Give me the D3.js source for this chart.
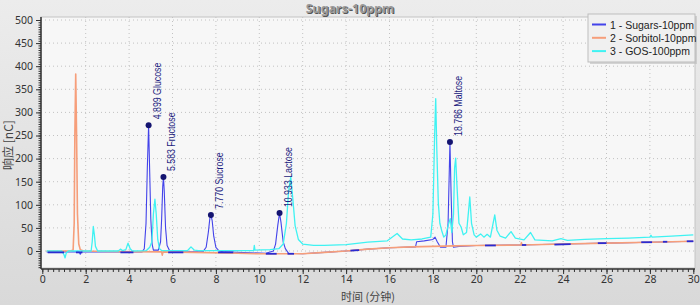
<!DOCTYPE html>
<html>
<head>
<meta charset="utf-8">
<script src="https://cdn.jsdelivr.net/npm/d3@7"></script>
<style>
  body { margin: 0; background: #e4e4e4; }
  svg { display: block; }
</style>
</head>
<body>
<div id="vis"></div>
<script>
// series names
let seriesNames = ["1 - Sugars-10ppm", "2 - Sorbitol-10ppm", "3 - GOS-100ppm"];
let seriesColors = ["#4343ea", "#f69e7a", "#3ff2f2"];

// [time (min), response (nC)]
let sugars = [[0.2,-2],[1.0,-2],[1.7,-2],[1.75,-7],[1.8,-2],[3.9,-2],[4.6,-2],[4.7,5],[4.78,60],[4.84,180],
  [4.899,272],[4.95,170],[5.0,70],[5.06,15],[5.12,2],[5.35,2],[5.45,20],[5.5,70],[5.55,140],[5.583,160],
  [5.62,130],[5.68,50],[5.75,12],[5.85,2],[6.0,-2],[7.4,-2],[7.55,8],[7.65,40],[7.72,70],[7.77,78],
  [7.83,65],[7.9,32],[8.0,8],[8.15,0],[8.4,-2],[10.3,-5],[10.65,0],[10.75,15],[10.85,55],[10.933,82],
  [11.0,62],[11.1,20],[11.2,5],[11.35,-5],[12,-6],[13,-3],[14,0],[15,4],[16,7],[17.2,9],[17.25,20],
  [17.6,22],[18.0,25],[18.1,30],[18.2,20],[18.35,8],[18.6,8],[18.7,60],[18.786,236],[18.84,120],
  [18.9,20],[18.95,8],[19.2,10],[20,12],[22,13],[24,15],[26,17],[28,19],[30,21]];

let sorbitol = [[0.2,0],[1.3,0],[1.42,2],[1.47,60],[1.5,250],[1.54,383],[1.58,250],[1.62,80],[1.68,15],
  [1.75,3],[1.9,0],[3,-1],[5.5,-2],[5.53,-9],[5.56,-2],[7,-3],[9,-5],[10,-6],[12,-6],[13,-3],[14,0],
  [15,4],[16,7],[17,9],[18,10],[19,11],[20,12],[22.05,13],[22.08,18],[22.11,13],[24,15],[26,17],
  [28,19],[30,21]];

let gos = [[0.2,0],[0.9,0],[1.0,-8],[1.05,-15],[1.1,-5],[1.2,0],[2.25,0],[2.3,20],[2.35,53],[2.4,35],
  [2.45,10],[2.55,0],[3.5,0],[3.6,4],[3.7,1],[3.85,3],[3.95,17],[4.05,5],[4.15,0],[4.8,1],[4.95,8],
  [5.05,20],[5.12,80],[5.19,112],[5.25,80],[5.32,25],[5.4,5],[5.5,1],[6.7,1],[6.85,9],[7.0,2],[7.2,1],
  [9.74,1],[9.77,12],[9.8,2],[10.5,3],[10.9,5],[11.1,15],[11.25,60],[11.35,130],[11.45,160],[11.55,110],
  [11.65,55],[11.8,25],[12.0,15],[12.5,12],[13,12],[14,14],[15,19],[15.9,22],[16.35,38],[16.6,26],
  [17,24],[17.5,26],[17.9,30],[18.0,80],[18.08,250],[18.13,330],[18.18,220],[18.25,104],[18.32,60],
  [18.4,45],[18.5,30],[18.6,35],[18.7,55],[18.8,70],[18.87,40],[18.95,80],[19.0,180],[19.05,201],
  [19.1,150],[19.2,60],[19.3,52],[19.4,35],[19.55,40],[19.65,90],[19.7,117],[19.78,60],[19.9,35],
  [20.0,30],[20.2,37],[20.35,30],[20.5,36],[20.65,30],[20.85,78],[20.95,45],[21.1,32],[21.35,28],
  [21.6,42],[21.8,28],[22.2,24],[22.5,40],[22.7,24],[23.5,22],[23.9,27],[24.2,23],[25,25],[26,27],
  [27,28],[28,30],[28.05,34],[28.1,30],[29,32],[30,35]];

// integration baselines drawn on trace 1: [t1, v1, t2, v2]
let baselines = [[0.25,-3,1.0,-3],[1.55,-3,1.85,-3],[3.6,-3,4.2,-3],[5.8,-3,6.5,-3],[8.1,-3,8.8,-3],
  [10.3,-6,10.8,-6],[11.3,-6,11.6,-6],[14.2,1,14.6,2],[20.4,12,20.9,12],[22.1,13,22.3,13],
  [23.6,14,24.35,15],[25.6,17,26.0,17],[27.6,19,28.1,19],[28.6,20,28.8,20],[29.7,21,30,21]];

// labelled peaks of trace 1
let peakTimes = [4.899, 5.583, 7.770, 10.933, 18.786];
let peakHeights = [272, 160, 78, 82, 236];
let peakNames = ["Glucose", "Fructose", "Sucrose", "Lactose", "Maltose"];

let xTicks = d3.range(0, 31, 2);
let yTicks = d3.range(0, 501, 50);

let width = 700, height = 305;
let margin = {top: 17, right: 5, bottom: 37, left: 41};

let svg = d3.select("#vis").append("svg")
  .attr("width", width).attr("height", height);

let defs = svg.append("defs");
let bg = defs.append("linearGradient").attr("id", "bg")
  .attr("x1", 0).attr("y1", 0).attr("x2", 0).attr("y2", 1);
bg.append("stop").attr("offset", "0%").attr("stop-color", "#ececec");
bg.append("stop").attr("offset", "100%").attr("stop-color", "#d9d9d9");

defs.append("clipPath").attr("id", "clip")
  .append("rect")
  .attr("x", margin.left).attr("y", margin.top)
  .attr("width", width - margin.left - margin.right)
  .attr("height", height - margin.top - margin.bottom);

svg.append("rect").attr("width", width).attr("height", height).attr("fill", "url(#bg)");

let x = d3.scaleLinear().domain([0, 30]).range([42.3, 693.3]);
let y = d3.scaleLinear().domain([0, 500]).range([251, 20]);

// plot area
svg.append("rect")
  .attr("x", margin.left).attr("y", margin.top)
  .attr("width", width - margin.left - margin.right)
  .attr("height", height - margin.top - margin.bottom)
  .attr("fill", "#f7f7f7")
  .attr("stroke", "#c4c4c4");

// dotted grid
let grid = svg.append("g").attr("stroke", "#c2c2c2").attr("stroke-dasharray", "1,3");
grid.selectAll(".gx").data(xTicks.slice(1, -1)).join("line")
  .attr("x1", d => x(d)).attr("x2", d => x(d))
  .attr("y1", margin.top).attr("y2", height - margin.bottom);
grid.selectAll(".gy").data(yTicks).join("line")
  .attr("x1", margin.left).attr("x2", width - margin.right)
  .attr("y1", d => y(d)).attr("y2", d => y(d));

// axes
let yAxis = d3.axisLeft(y).tickValues(yTicks).tickSize(5).tickPadding(3);
let yMinor = d3.axisLeft(y).tickValues(d3.range(-35, 501, 5)).tickSize(2.5).tickFormat("");
let xAxis = d3.axisBottom(x).tickValues(xTicks).tickSize(5).tickPadding(2);
let xMinor = d3.axisBottom(x).tickValues(d3.range(0, 30.01, 0.25)).tickSize(3).tickFormat("");

let styleAxis = g => {
  g.selectAll(".domain").remove();
  g.selectAll("line").attr("stroke", "#333");
  g.selectAll("text").attr("fill", "#333")
    .attr("font-family", "Noto Sans, sans-serif").attr("font-size", 10.5);
};

svg.append("g").attr("transform", "translate(" + margin.left + ",0)").call(yMinor).call(styleAxis);
svg.append("g").attr("transform", "translate(" + margin.left + ",0)").call(yAxis).call(styleAxis);
svg.append("g").attr("transform", "translate(0," + (height - margin.bottom + 1) + ")").call(xMinor).call(styleAxis);
svg.append("g").attr("transform", "translate(0," + (height - margin.bottom + 1) + ")").call(xAxis).call(styleAxis);

svg.append("line")
  .attr("x1", margin.left).attr("x2", margin.left)
  .attr("y1", margin.top).attr("y2", height - margin.bottom + 1)
  .attr("stroke", "#333").attr("stroke-width", 1.5);
svg.append("line")
  .attr("x1", margin.left).attr("x2", width - margin.right)
  .attr("y1", height - margin.bottom + 1).attr("y2", height - margin.bottom + 1)
  .attr("stroke", "#333").attr("stroke-width", 1.5);

// traces
let line = d3.line().x(d => x(d[0])).y(d => y(d[1]));
let traces = svg.append("g").attr("clip-path", "url(#clip)").attr("fill", "none");
let order = [[sugars, 0, 1.1], [sorbitol, 1, 1.6], [gos, 2, 1.3]];
for(let [data, i, w] of order) {
  traces.append("path")
    .attr("d", line(data))
    .attr("stroke", seriesColors[i])
    .attr("stroke-width", w)
    .attr("stroke-linejoin", "round");
}

traces.selectAll(".base").data(baselines).join("line")
  .attr("x1", d => x(d[0])).attr("y1", d => y(d[1]))
  .attr("x2", d => x(d[2])).attr("y2", d => y(d[3]))
  .attr("stroke", "#2b2bd0").attr("stroke-width", 1.8);

// peak markers and labels
let peaks = svg.append("g");
peaks.selectAll("circle").data(peakTimes).join("circle")
  .attr("cx", d => x(d)).attr("cy", (d, i) => y(peakHeights[i]))
  .attr("r", 3).attr("fill", "#141470");
peaks.selectAll("text").data(peakTimes).join("text")
  .attr("transform", (d, i) => "translate(" + (x(d) + 12) + "," + (y(peakHeights[i]) - 6) + ") rotate(-90) scale(0.88,1)")
  .attr("font-family", "Liberation Sans, Arial, sans-serif")
  .attr("font-size", 10)
  .attr("fill", "#1c1c80")
  .text((d, i) => d3.format(".3f")(d) + " " + peakNames[i]);

// titles
let title = svg.append("g").attr("font-family", "Noto Sans, sans-serif")
  .attr("font-size", 12.5).attr("font-weight", "bold").attr("text-anchor", "middle");
title.append("text").attr("x", 351).attr("y", 14).attr("fill", "#555").text("Sugars-10ppm");
title.append("text").attr("x", 350).attr("y", 13).attr("fill", "#9a9a9a").text("Sugars-10ppm");

svg.append("text")
  .attr("x", 368).attr("y", 301)
  .attr("text-anchor", "middle")
  .attr("font-family", "Noto Sans CJK SC, sans-serif").attr("font-size", 11)
  .attr("fill", "#444")
  .text("时间 (分钟)");

svg.append("text")
  .attr("transform", "translate(13,145) rotate(-90)")
  .attr("text-anchor", "middle")
  .attr("font-family", "Noto Sans CJK SC, sans-serif").attr("font-size", 12)
  .attr("fill", "#444")
  .text("响应 [nC]");

// legend
let legend = svg.append("g").attr("transform", "translate(588,14)");
legend.append("rect").attr("x", 2).attr("y", 2).attr("width", 107).attr("height", 48)
  .attr("fill", "#bbb").attr("opacity", 0.6);
legend.append("rect").attr("width", 107).attr("height", 48)
  .attr("fill", "#f0f0f0").attr("stroke", "#bdbdbd");
let items = legend.selectAll(".item").data(seriesNames).join("g")
  .attr("transform", (d, i) => "translate(0," + (10.5 + i * 13.3) + ")");
items.append("line").attr("x1", 4).attr("x2", 18)
  .attr("stroke", (d, i) => seriesColors[i]).attr("stroke-width", 2);
items.append("text").attr("x", 22).attr("y", 4)
  .attr("font-family", "Liberation Sans, Arial, sans-serif").attr("font-size", 10.5)
  .attr("fill", "#222").text(d => d);
</script>
</body>
</html>
